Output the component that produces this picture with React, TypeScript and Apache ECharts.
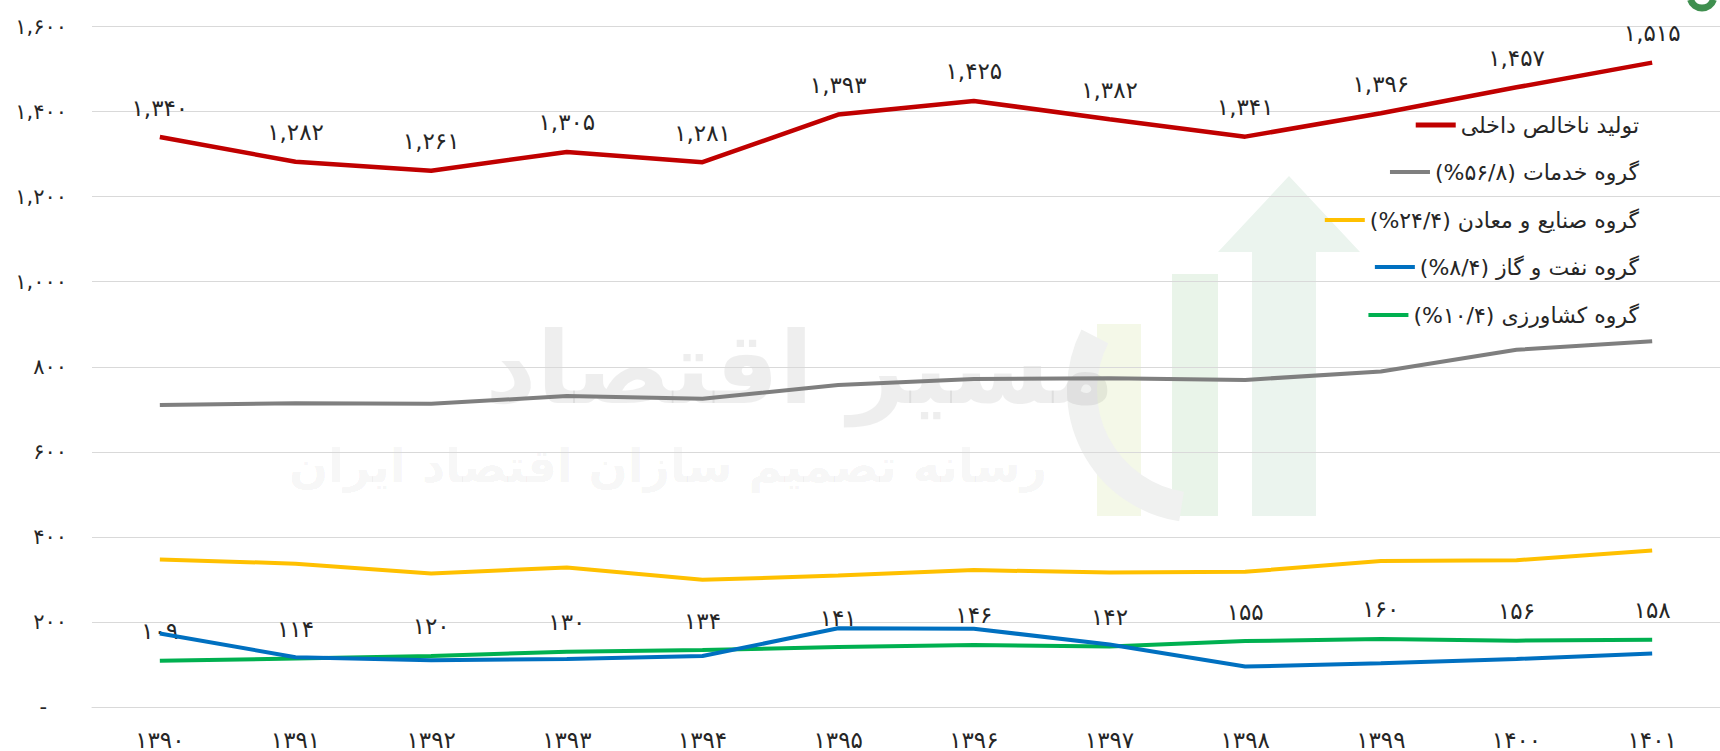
import React, { useEffect, useRef } from "react";
import * as echarts from "echarts";

const years = ["1390", "1391", "1392", "1393", "1394", "1395", "1396", "1397", "1398", "1399", "1400", "1401"];
const gdp = [1340, 1282, 1261, 1305, 1281, 1393, 1425, 1382, 1341, 1396, 1457, 1515];
const services = [710, 714, 713, 731, 725, 757, 771, 773, 769, 789, 840, 860];
const industry = [347, 337, 314, 328, 299, 309, 322, 316, 318, 343, 345, 368];
const oilGas = [173, 117, 110, 113, 120, 185, 184, 147, 95, 103, 113, 126];
const agriculture = [109, 114, 120, 130, 134, 141, 146, 142, 155, 160, 156, 158];

const seriesNames = [
  "تولید ناخالص داخلی",
  "گروه خدمات (۵۶/۸%)",
  "گروه صنایع و معادن (۲۴/۴%)",
  "گروه نفت و گاز (۸/۴%)",
  "گروه کشاورزی (۱۰/۴%)",
];
const colors = ["#C00000", "#7F7F7F", "#FFC000", "#0070C0", "#00B050"];
const yTicks = { min: 0, max: 1600, interval: 200 };

const faDigits = "۰۱۲۳۴۵۶۷۸۹";
const fa = (s: string) => s.replace(/\d/g, (d) => faDigits[+d]);
const fmt = (v: number) => fa(v.toLocaleString("en-US"));
const rtl = (s: string) => "\u202B" + s + "\u202C";

const FONT = "'DejaVu Sans', 'Noto Sans', sans-serif";

export default function App() {
  const ref = useRef<HTMLDivElement>(null);
  useEffect(() => {
    if (!ref.current) return;
    const chart = echarts.init(ref.current, undefined, { renderer: "svg" });
    const datasets = [gdp, services, industry, oilGas, agriculture];
    const legendCenters = [127, 174, 222, 269, 317];
    const option: any = {
      animation: false,
      backgroundColor: "#ffffff",
      textStyle: { fontFamily: FONT },
      grid: { left: 92, top: 26.5, width: 1644, height: 685, containLabel: false },
      legend: seriesNames.map((n, i) => ({
        data: [n],
        right: 76,
        top: legendCenters[i] - 18,
        icon: "rect",
        itemWidth: 40,
        itemHeight: i === 0 ? 5 : 4,
        itemGap: 0,
        selectedMode: false,
        textStyle: { fontSize: 22, color: "#262626", fontFamily: FONT },
        formatter: (name: string) => rtl(name),
      })),
      xAxis: {
        type: "category",
        data: years,
        boundaryGap: true,
        axisLine: { show: true, lineStyle: { color: "#D9D9D9", width: 1 } },
        axisTick: { show: false },
        axisLabel: {
          formatter: (v: string) => fa(v),
          fontSize: 23,
          color: "#262626",
          margin: 21,
          fontFamily: FONT,
        },
      },
      yAxis: {
        type: "value",
        min: yTicks.min,
        max: yTicks.max,
        interval: yTicks.interval,
        axisLine: { show: false },
        axisTick: { show: false },
        splitLine: { lineStyle: { color: "#D9D9D9", width: 1 } },
        axisLabel: {
          formatter: (v: number) => (v === 0 ? "-\u00A0\u00A0\u00A0" : fmt(v)),
          fontSize: 21,
          color: "#262626",
          margin: 25,
          fontFamily: FONT,
        },
      },
      graphic: [
        { type: "rect", z: -5, shape: { x: 1097, y: 324, width: 44, height: 192 }, style: { fill: "#F4F8E8" } },
        { type: "rect", z: -5, shape: { x: 1172, y: 274, width: 46, height: 242 }, style: { fill: "#E9F4E9" } },
        {
          type: "polygon",
          z: -5,
          shape: { points: [[1289, 176], [1360, 252], [1316, 252], [1316, 516], [1252, 516], [1252, 252], [1218, 252]] },
          style: { fill: "#EBF4EE" },
        },
        {
          type: "arc",
          z: -5,
          shape: { cx: 1200, cy: 390, r: 118, startAngle: Math.PI * 0.55, endAngle: Math.PI * 1.15 },
          style: { stroke: "#F0F1F0", lineWidth: 30, fill: "none" },
        },
        {
          type: "arc",
          z: -5,
          shape: { cx: 1702, cy: -4, r: 12, startAngle: Math.PI * 0.1, endAngle: Math.PI * 0.9 },
          style: { stroke: "#3F8F4F", lineWidth: 7, fill: "none" },
        },
        {
          type: "text",
          z: -4,
          x: 800,
          y: 368,
          style: {
            text: rtl("مسیر اقتصاد"),
            font: "bold 100px 'DejaVu Sans', sans-serif",
            fill: "rgba(0,0,0,0.065)",
            align: "center",
            verticalAlign: "middle",
          },
        },
        {
          type: "text",
          z: -4,
          x: 668,
          y: 466,
          style: {
            text: rtl("رسانه تصمیم سازان اقتصاد ایران"),
            font: "bold 46px 'DejaVu Sans', sans-serif",
            fill: "rgba(0,0,0,0.055)",
            align: "center",
            verticalAlign: "middle",
          },
        },
      ],
      series: datasets.map((d, i) => ({
        name: seriesNames[i],
        type: "line",
        data: d,
        symbol: "circle",
        symbolSize: 0,
        showSymbol: true,
        z: 10 - i,
        lineStyle: { color: colors[i], width: i === 0 ? 4.5 : 4 },
        itemStyle: { color: colors[i] },
        label:
          i === 0 || i === 4
            ? {
                show: true,
                position: "top",
                distance: 18,
                fontSize: 23,
                color: "#262626",
                fontFamily: FONT,
                formatter: (p: any) => fmt(p.value),
              }
            : { show: false },
      })),
    };
    chart.setOption(option);
    return () => chart.dispose();
  }, []);
  return (
    <div
      ref={ref}
      style={{ position: "fixed", left: 0, top: 0, width: 1720, height: 751, overflow: "hidden" }}
    />
  );
}
